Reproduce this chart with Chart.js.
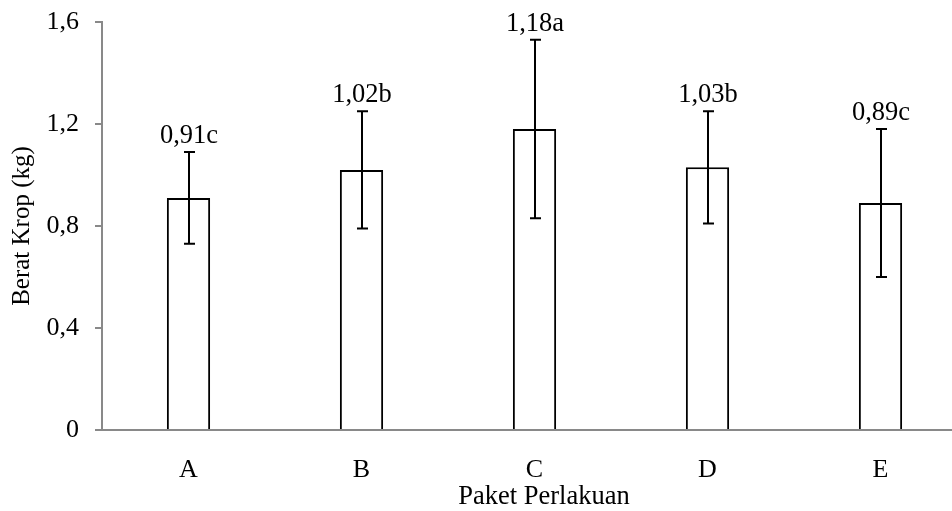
<!DOCTYPE html>
<html>
<head>
<meta charset="utf-8">
<script src="https://cdn.jsdelivr.net/npm/chart.js@4"></script>
<style>
    html, body { margin: 0; padding: 0; background: #fff; }
    #wrap { width: 952px; height: 511px; overflow: hidden; position: relative; }
    canvas { display: block; }
</style>
</head>
<body>
<div id="wrap"><canvas id="kropChart" width="990" height="511"></canvas></div>
<script>
const categories = ['A', 'B', 'C', 'D', 'E'];
const beratKrop = [0.91, 1.02, 1.18, 1.03, 0.89];
const simpangan = [0.18, 0.23, 0.35, 0.22, 0.29];
const notasi = ['c', 'b', 'a', 'b', 'c'];
const tickLabels = ['0', '0,4', '0,8', '1,2', '1,6'];

const axisGray = '#898989';
const serif = '"Liberation Serif", "Times New Roman", serif';

// error bars + label di atasnya
const errorBarPlugin = {
    id: 'errorBars',
    afterDatasetsDraw(chart) {
        const ctx = chart.ctx;
        const y = chart.scales.y;
        const meta = chart.getDatasetMeta(0);
        ctx.save();
        ctx.strokeStyle = '#000';
        ctx.lineWidth = 2;
        meta.data.forEach((bar, i) => {
            const top = y.getPixelForValue(beratKrop[i] + simpangan[i]);
            const bottom = y.getPixelForValue(beratKrop[i] - simpangan[i]);
            const x = Math.round(bar.x);
            ctx.beginPath();
            ctx.moveTo(x, top);
            ctx.lineTo(x, bottom);
            ctx.moveTo(x - 5, top);
            ctx.lineTo(x + 6, top);
            ctx.moveTo(x - 5, bottom);
            ctx.lineTo(x + 6, bottom);
            ctx.stroke();

            ctx.fillStyle = '#000';
            ctx.font = '26.5px ' + serif;
            ctx.textAlign = 'center';
            ctx.textBaseline = 'alphabetic';
            const txt = beratKrop[i].toFixed(2).replace('.', ',') + notasi[i];
            ctx.fillText(txt, x, top - 9);
        });
        ctx.restore();
    }
};

// judul sumbu x, sedikit ke kanan seperti aslinya
const xTitlePlugin = {
    id: 'xTitle',
    afterDraw(chart) {
        const ctx = chart.ctx;
        const area = chart.chartArea;
        ctx.save();
        ctx.fillStyle = '#000';
        ctx.font = '26.5px ' + serif;
        ctx.textAlign = 'center';
        ctx.textBaseline = 'middle';
        ctx.fillText('Paket Perlakuan', area.left + (area.right - area.left) * 0.511, 497);
        ctx.restore();
    }
};

new Chart(document.getElementById('kropChart'), {
    type: 'bar',
    data: {
        labels: categories,
        datasets: [{
            data: beratKrop,
            backgroundColor: '#ffffff',
            borderColor: '#000000',
            borderWidth: 2,
            categoryPercentage: 1,
            barPercentage: 0.25
        }]
    },
    options: {
        responsive: false,
        animation: false,
        devicePixelRatio: 1,
        layout: {
            padding: { left: 0, right: 23, top: 22, bottom: 0 }
        },
        scales: {
            x: {
                grid: { display: false, drawTicks: false },
                border: { display: true, color: axisGray, width: 2 },
                ticks: {
                    color: '#000',
                    padding: 25,
                    font: { family: serif, size: 26 }
                },
                afterFit(scale) { scale.height = 81; }
            },
            y: {
                min: 0,
                max: 1.6,
                grid: {
                    display: true,
                    drawOnChartArea: false,
                    drawTicks: true,
                    tickLength: 7,
                    color: axisGray,
                    lineWidth: 2
                },
                border: { display: true, color: axisGray, width: 2 },
                ticks: {
                    stepSize: 0.4,
                    color: '#000',
                    padding: 16,
                    font: { family: serif, size: 26 },
                    callback: function(value, index) {
                        return tickLabels[index];
                    }
                },
                title: {
                    display: true,
                    text: 'Berat Krop (kg)',
                    color: '#000',
                    font: { family: serif, size: 25, lineHeight: 1.2 },
                    padding: { top: 7, bottom: 0 }
                },
                afterFit(scale) {
                    scale.width = 102;
                    scale.paddingTop = 0;
                    scale.paddingBottom = 0;
                }
            }
        },
        plugins: {
            legend: { display: false },
            tooltip: { enabled: false }
        }
    },
    plugins: [errorBarPlugin, xTitlePlugin]
});
</script>
</body>
</html>
